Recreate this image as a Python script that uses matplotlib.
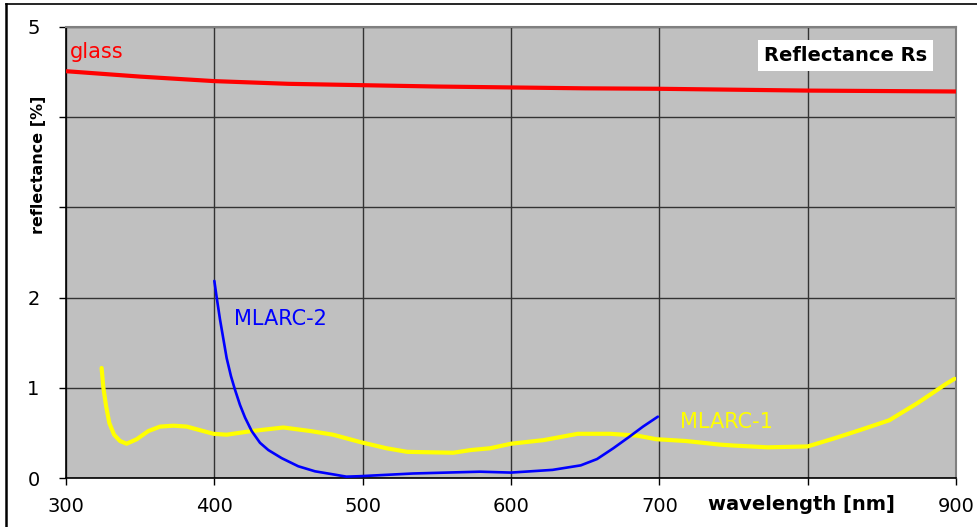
import matplotlib
matplotlib.use("Agg")
import matplotlib.pyplot as plt
from matplotlib.lines import Line2D

plt.rcParams['font.family'] = ['DejaVu Sans']

# ---- data ----
glass_wl = [300, 350, 400, 450, 500, 550, 600, 650, 700, 750, 800, 850, 900]
glass_r = [4.51, 4.45, 4.40, 4.37, 4.355, 4.34, 4.33, 4.32, 4.315, 4.305, 4.295, 4.29, 4.285]

mlarc1_wl = [324, 325.2, 327, 329.2, 332.4, 336.4, 340.9, 347.7, 355.5, 363.4, 372.4, 381.4,
             390.4, 399.4, 408.3, 425, 446.5, 465, 480, 498, 516, 530, 545, 561, 573, 586,
             600, 622, 645, 667, 685, 698, 718, 741, 750, 773, 800, 818, 835, 855, 874,
             884, 893, 899]
mlarc1_r = [1.22, 1.00, 0.80, 0.61, 0.48, 0.41, 0.38, 0.43, 0.52, 0.57, 0.58, 0.57,
            0.53, 0.49, 0.48, 0.52, 0.56, 0.52, 0.48, 0.40, 0.33, 0.29, 0.285, 0.28, 0.31, 0.33,
            0.38, 0.42, 0.49, 0.49, 0.47, 0.43, 0.41, 0.37, 0.36, 0.34, 0.35, 0.44, 0.53, 0.64,
            0.83, 0.94, 1.04, 1.10]

mlarc2_wl = [400, 401.6, 403.8, 406.1, 408.3, 411.2, 413.9, 417.3, 420.7, 425.2, 430.8,
             436.4, 445.4, 456.6, 467.9, 481.3, 489, 498, 534, 579, 600, 628, 647, 658,
             669, 680, 689, 699]
mlarc2_r = [2.185, 2.00, 1.76, 1.54, 1.33, 1.13, 0.98, 0.81, 0.67, 0.52, 0.39,
            0.31, 0.22, 0.13, 0.074, 0.037, 0.015, 0.02, 0.05, 0.07, 0.06, 0.09, 0.14, 0.21,
            0.33, 0.46, 0.57, 0.68]

x_ticks = [300, 400, 500, 600, 700, 800, 900]
x_labels = ['300', '400', '500', '600', '700', '', '900']
y_ticks = [0, 1, 2, 3, 4, 5]
y_labels = ['0', '1', '2', '', '', '5']

# ---- figure ----
W, H = 977, 527
fig = plt.figure(figsize=(W / 100, H / 100), dpi=100)
fig.patch.set_facecolor('white')
ax = fig.add_axes([66 / W, 1 - 478 / H, (956 - 66) / W, (478 - 27) / H])
ax.set_facecolor('#C0C0C0')

ax.set_xlim(300, 900)
ax.set_ylim(0, 5)
ax.set_xticks(x_ticks)
ax.set_xticklabels(x_labels)
ax.set_yticks(y_ticks)
ax.set_yticklabels(y_labels)
ax.grid(True, color='#333333', linewidth=1.0)
ax.set_axisbelow(True)

for s in ['top', 'right']:
    ax.spines[s].set_color('#808080')
    ax.spines[s].set_linewidth(1.5)
for s in ['left', 'bottom']:
    ax.spines[s].set_color('black')
    ax.spines[s].set_linewidth(1.2)

ax.tick_params(axis='x', direction='out', length=5, width=1, pad=9, labelsize=14, colors='black')
ax.tick_params(axis='y', direction='out', length=5, width=1, pad=14, labelsize=14, colors='black')

ax.plot(glass_wl, glass_r, color='#FF0000', lw=3.0, solid_capstyle='butt', zorder=3)
ax.plot(mlarc1_wl, mlarc1_r, color='#FFFF00', lw=3.0, solid_capstyle='round',
        solid_joinstyle='round', zorder=3)
ax.plot(mlarc2_wl, mlarc2_r, color='#0000FF', lw=1.9, solid_capstyle='round',
        solid_joinstyle='round', zorder=4)

ax.text(302.5, 4.72, 'glass', color='#FF0000', fontsize=15, ha='left', va='center')
ax.text(413, 1.76, 'MLARC-2', color='#0000FF', fontsize=15, ha='left', va='center')
ax.text(714, 0.62, 'MLARC-1', color='#FFFF00', fontsize=15, ha='left', va='center')
ax.text(0.876, 0.937, 'Reflectance Rs', transform=ax.transAxes, fontsize=14,
        fontweight='bold', ha='center', va='center',
        bbox=dict(boxstyle='square,pad=0.3', facecolor='white', edgecolor='none'))

fig.text(801 / W, 1 - 505 / H, 'wavelength [nm]', fontsize=14, fontweight='bold',
         ha='center', va='center')
fig.text(39 / W, 1 - 165 / H, 'reflectance [%]', fontsize=11.5, fontweight='bold',
         ha='center', va='center', rotation=90)

# outer frame (left and top edges)
fig.add_artist(Line2D([5.5 / W, 5.5 / W], [0, 1 - 4 / H], color='black', lw=1.8,
                      transform=fig.transFigure))
fig.add_artist(Line2D([5.5 / W, 1], [1 - 4 / H, 1 - 4 / H], color='black', lw=1.2,
                      transform=fig.transFigure))

fig.savefig('out.png', dpi=100, facecolor='white')
